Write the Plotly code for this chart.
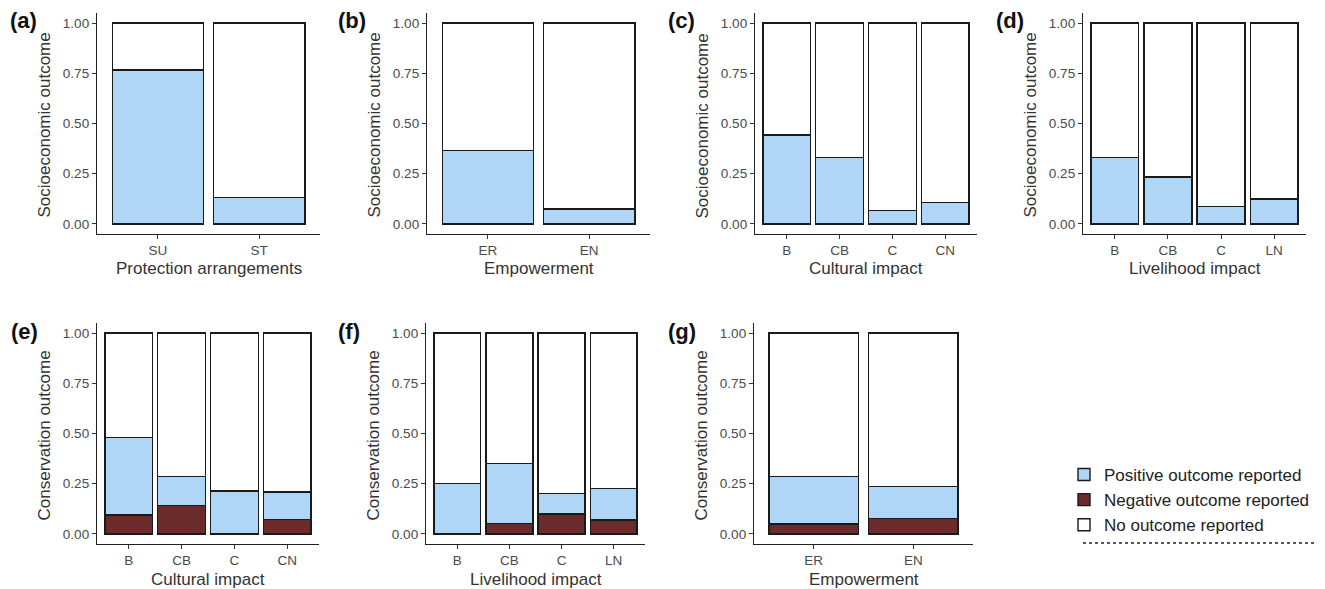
import plotly.graph_objects as go

# The page body adds an 8px margin, so the figure is drawn 8px smaller and all
# pixel positions below are given in window coordinates and shifted by OFF.
WIN_W, WIN_H = 1325, 589
OFF = 8
W, H = WIN_W - OFF, WIN_H - OFF

# ---------------- data ----------------
labels = ["(a)", "(b)", "(c)", "(d)", "(e)", "(f)", "(g)"]
x_titles = ["Protection arrangements", "Empowerment", "Cultural impact", "Livelihood impact",
            "Cultural impact", "Livelihood impact", "Empowerment"]
y_titles = ["Socioeconomic outcome"] * 4 + ["Conservation outcome"] * 3

cats_a = ["SU", "ST"]
cats_b = ["ER", "EN"]
cats_c = ["B", "CB", "C", "CN"]
cats_d = ["B", "CB", "C", "LN"]
cats_e = ["B", "CB", "C", "CN"]
cats_f = ["B", "CB", "C", "LN"]
cats_g = ["ER", "EN"]

pos_a = [0.766, 0.133]
pos_b = [0.365, 0.075]
pos_c = [0.443, 0.330, 0.068, 0.106]
pos_d = [0.330, 0.234, 0.086, 0.124]
pos_e = [0.384, 0.142, 0.214, 0.136]
pos_f = [0.252, 0.300, 0.102, 0.156]
pos_g = [0.235, 0.158]

neg_a = None
neg_b = None
neg_c = None
neg_d = None
neg_e = [0.095, 0.143, 0.000, 0.073]
neg_f = [0.000, 0.051, 0.100, 0.070]
neg_g = [0.050, 0.078]

panels = [
    (cats_a, pos_a, neg_a), (cats_b, pos_b, neg_b), (cats_c, pos_c, neg_c), (cats_d, pos_d, neg_d),
    (cats_e, pos_e, neg_e), (cats_f, pos_f, neg_f), (cats_g, pos_g, neg_g),
]

# ---------------- styles ----------------
C_POS = "#AFD6F7"
C_NEG = "#6B2B2B"
C_NONE = "#FFFFFF"
EDGE = "#1a1a1a"
FONT = "Liberation Sans, Arial, sans-serif"
TICK_FONT = dict(family=FONT, size=13.5, color="#4a4a4a")
TITLE_FONT = dict(family=FONT, size=17, color="#333333")


def px(x):
    return (x - OFF) / W


def py(y):
    return 1 - (y - OFF) / H


# pixel boxes in window coords (x0, x1, ytop, ybottom)
boxes = [
    (97, 320, 13, 234), (427, 650, 13, 234), (755, 977, 13, 234), (1083, 1306, 13, 234),
    (97, 319, 323, 544), (426, 645, 323, 544), (754, 973, 323, 544),
]
label_pos = [(23, 20), (352, 20), (681, 20), (1010, 20), (24, 331), (349, 331), (682, 331)]

fig = go.Figure()
for i, (cats, pos, neg) in enumerate(panels):
    n = i + 1
    xa = "x" if n == 1 else f"x{n}"
    ya = "y" if n == 1 else f"y{n}"
    neg_vals = neg if neg is not None else [0.0] * len(cats)
    none_vals = [1 - p - q for p, q in zip(pos, neg_vals)]
    show = (n == 5)
    line = dict(color=EDGE, width=1.4)
    if neg is not None:
        fig.add_trace(go.Bar(x=cats, y=neg, name="Negative outcome reported", marker=dict(color=C_NEG, line=line),
                             width=0.9, xaxis=xa, yaxis=ya, showlegend=show, legendrank=2, legendgroup="neg"))
    fig.add_trace(go.Bar(x=cats, y=pos, name="Positive outcome reported", marker=dict(color=C_POS, line=line),
                         width=0.9, xaxis=xa, yaxis=ya, showlegend=show, legendrank=1, legendgroup="pos"))
    fig.add_trace(go.Bar(x=cats, y=none_vals, name="No outcome reported", marker=dict(color=C_NONE, line=line),
                         width=0.9, xaxis=xa, yaxis=ya, showlegend=show, legendrank=3, legendgroup="none"))

    x0, x1, yt, yb = boxes[i]
    xkey = "xaxis" if n == 1 else f"xaxis{n}"
    ykey = "yaxis" if n == 1 else f"yaxis{n}"
    fig.layout[xkey] = dict(
        domain=[px(x0), px(x1)], anchor=ya, type="category", range=[-0.6, len(cats) - 0.4],
        showline=True, linecolor="#222", linewidth=1.3, ticks="outside", ticklen=4, tickcolor="#333", tickwidth=1.2,
        tickfont=TICK_FONT, showgrid=False, zeroline=False, fixedrange=True, automargin=False,
    )
    fig.layout[ykey] = dict(
        domain=[py(yb), py(yt)], anchor=xa, range=[-0.05, 1.05],
        tickvals=[0, 0.25, 0.5, 0.75, 1.0], ticktext=["0.00", "0.25", "0.50", "0.75", "1.00"],
        showline=True, linecolor="#222", linewidth=1.3, ticks="outside", ticklen=4, tickcolor="#333", tickwidth=1.2,
        tickfont=TICK_FONT, showgrid=False, zeroline=False, fixedrange=True, automargin=False,
    )
    # axis titles
    fig.add_annotation(text=x_titles[i], x=px((x0 + x1) / 2), y=py(yb + 35), xref="paper", yref="paper",
                       showarrow=False, font=TITLE_FONT, xanchor="center", yanchor="middle")
    fig.add_annotation(text=y_titles[i], x=px(x0 - 53), y=py((yt + yb) / 2 + 2), xref="paper", yref="paper",
                       showarrow=False, font=TITLE_FONT, xanchor="center", yanchor="middle", textangle=-90)
    lx, ly = label_pos[i]
    fig.add_annotation(text="<b>" + labels[i] + "</b>", x=px(lx), y=py(ly), xref="paper", yref="paper",
                       showarrow=False, font=dict(family=FONT, size=22, color="#111"), xanchor="center", yanchor="middle")

fig.add_shape(type="line", xref="paper", yref="paper", x0=px(1083), x1=px(1315), y0=py(543), y1=py(543),
              line=dict(color="#222", width=1.5, dash="dot"))

fig.update_layout(
    width=W, height=H, barmode="stack", bargap=0.1,
    margin=dict(l=0, r=0, t=0, b=0),
    paper_bgcolor="white", plot_bgcolor="white",
    font=dict(family=FONT),
    legend=dict(x=px(1064), y=py(457), xanchor="left", yanchor="top", traceorder="normal",
                font=dict(family=FONT, size=17, color="#222"), tracegroupgap=11, itemwidth=30,
                bgcolor="rgba(0,0,0,0)"),
)

fig.write_html("out.html")
